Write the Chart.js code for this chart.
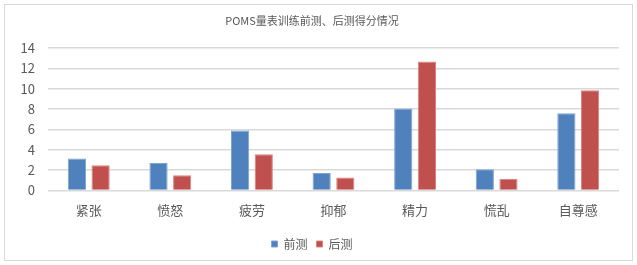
<!DOCTYPE html>
<html>
<head>
<meta charset="utf-8">
<script src="https://cdn.jsdelivr.net/npm/chart.js@4/dist/chart.umd.min.js"></script>
<style>
  body { margin: 0; background: #fff; }
  #box {
    position: absolute; left: 4px; top: 4px;
    width: 627px; height: 255px;
    border: 1px solid #d9d9d9;
  }
</style>
</head>
<body>
<div id="box"><canvas id="pomsChart" width="627" height="255"></canvas></div>
<script>
const categories = ["紧张", "愤怒", "疲劳", "抑郁", "精力", "慌乱", "自尊感"];
const preTest = [3.13, 2.7, 5.9, 1.71, 8.07, 2.07, 7.6];
const postTest = [2.47, 1.48, 3.56, 1.28, 12.68, 1.15, 9.85];
const seriesNames = ["前测", "后测"];
const yTicks = [0, 2, 4, 6, 8, 10, 12, 14];

const fontFamily = "'Noto Sans CJK SC', 'Noto Sans', sans-serif";

const ctx = document.getElementById("pomsChart").getContext("2d");
new Chart(ctx, {
    type: "bar",
    data: {
        labels: categories,
        datasets: [{
            label: seriesNames[0],
            data: preTest,
            backgroundColor: "#4F81BD",
            borderColor: "#7EA3D3",
            borderWidth: 1,
            categoryPercentage: 0.58,
            barPercentage: 0.77
        }, {
            label: seriesNames[1],
            data: postTest,
            backgroundColor: "#C0504D",
            borderColor: "#D9837F",
            borderWidth: 1,
            categoryPercentage: 0.58,
            barPercentage: 0.77
        }]
    },
    options: {
        responsive: false,
        animation: false,
        layout: { padding: { left: 0, right: 13, top: 0, bottom: 0 } },
        plugins: {
            title: {
                display: true,
                text: "POMS量表训练前测、后测得分情况",
                color: "#595959",
                font: { family: fontFamily, size: 11, weight: "normal" },
                padding: { top: 9, bottom: 21 }
            },
            legend: {
                position: "bottom",
                labels: {
                    color: "#595959",
                    font: { family: fontFamily, size: 12 },
                    boxWidth: 6,
                    boxHeight: 6,
                    padding: 9
                }
            },
            tooltip: { enabled: false }
        },
        scales: {
            x: {
                afterFit: scale => { scale.height += 7; },
                grid: { display: false },
                border: { display: false },
                ticks: {
                    color: "#595959",
                    font: { family: fontFamily, size: 13 },
                    padding: 4
                }
            },
            y: {
                min: 0,
                max: 14,
                afterBuildTicks: scale => { scale.ticks = yTicks.map(v => ({ value: v })); },
                afterFit: scale => { scale.width = 43; },
                grid: { color: "#d9d9d9", lineWidth: 1.5, drawTicks: false },
                border: { display: false },
                ticks: {
                    color: "#595959",
                    font: { family: fontFamily, size: 13 },
                    padding: 13
                }
            }
        }
    }
});
</script>
</body>
</html>
